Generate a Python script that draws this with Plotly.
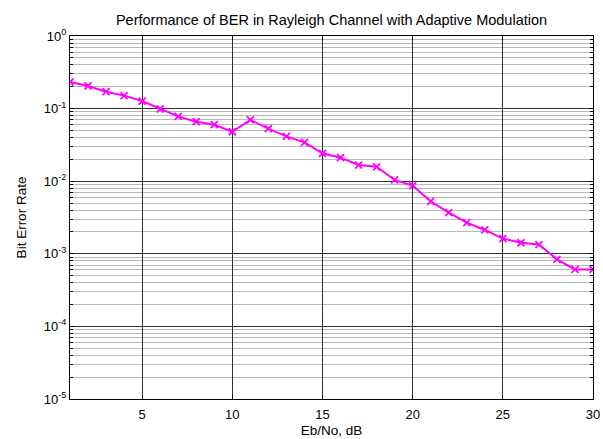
import plotly.graph_objects as go

ebno_db = list(range(1, 31))
ber = [0.232, 0.205, 0.171, 0.151, 0.127, 0.0987, 0.078, 0.066, 0.060, 0.048,
       0.0697, 0.0529, 0.0415, 0.0343, 0.0242, 0.0211, 0.0167, 0.0158, 0.0104, 0.0087,
       0.00528, 0.00368, 0.00268, 0.00213, 0.00162, 0.00142, 0.00134, 0.00084, 0.00061, 0.00061]

x_ticks = [5, 10, 15, 20, 25, 30]
y_ticks = [1e-5, 1e-4, 1e-3, 1e-2, 1e-1, 1e0]
y_ticktext = ["10<sup>-5</sup>", "10<sup>-4</sup>", "10<sup>-3</sup>",
              "10<sup>-2</sup>", "10<sup>-1</sup>", "10<sup>0</sup>"]
minor_y = [m * 10.0 ** e for e in range(-5, 0) for m in range(2, 10)]

fam = "Liberation Sans, Arial, sans-serif"
tick_font = dict(family=fam, size=13, color="black")
label_font = dict(family=fam, size=13.5, color="black")

fig = go.Figure()
fig.add_trace(go.Scatter(
    x=ebno_db, y=ber, mode="lines+markers",
    line=dict(color="#ff00ff", width=2),
    marker=dict(symbol="x-thin", size=7, line=dict(color="#ff00ff", width=1.8)),
    showlegend=False,
))

fig.update_layout(
    width=603, height=439,
    margin=dict(l=70, r=10, t=36, b=40),
    paper_bgcolor="white", plot_bgcolor="white",
    font=tick_font,
    title=dict(text="Performance of BER in Rayleigh Channel with Adaptive Modulation",
               x=(70 + 593) / 2 / 603, xanchor="center", y=1 - 20 / 439, yanchor="middle",
               font=dict(family=fam, size=14.5, color="black")),
    xaxis=dict(
        range=[1, 30], tickvals=x_ticks, ticks="inside", ticklen=4, tickcolor="black",
        showline=True, linecolor="black", linewidth=1, mirror="ticks",
        showgrid=True, gridcolor="#303030", gridwidth=0.6, zeroline=False,
        tickfont=tick_font, ticklabelstandoff=3, automargin=False,
        title=dict(text="Eb/No, dB", standoff=4, font=label_font),
    ),
    yaxis=dict(
        type="log", range=[-5, 0], tickvals=y_ticks, ticktext=y_ticktext,
        ticks="inside", ticklen=4, tickcolor="black",
        showline=True, linecolor="black", linewidth=1, mirror="ticks",
        showgrid=True, gridcolor="#303030", gridwidth=0.8, zeroline=False,
        tickfont=tick_font, automargin=False,
        minor=dict(tickvals=minor_y, ticks="inside", ticklen=3, tickcolor="black",
                   showgrid=True, gridcolor="#b8b8b8", gridwidth=0.8),
        title=dict(text="Bit Error Rate", standoff=14, font=label_font),
    ),
)

fig.write_html("out.html")
